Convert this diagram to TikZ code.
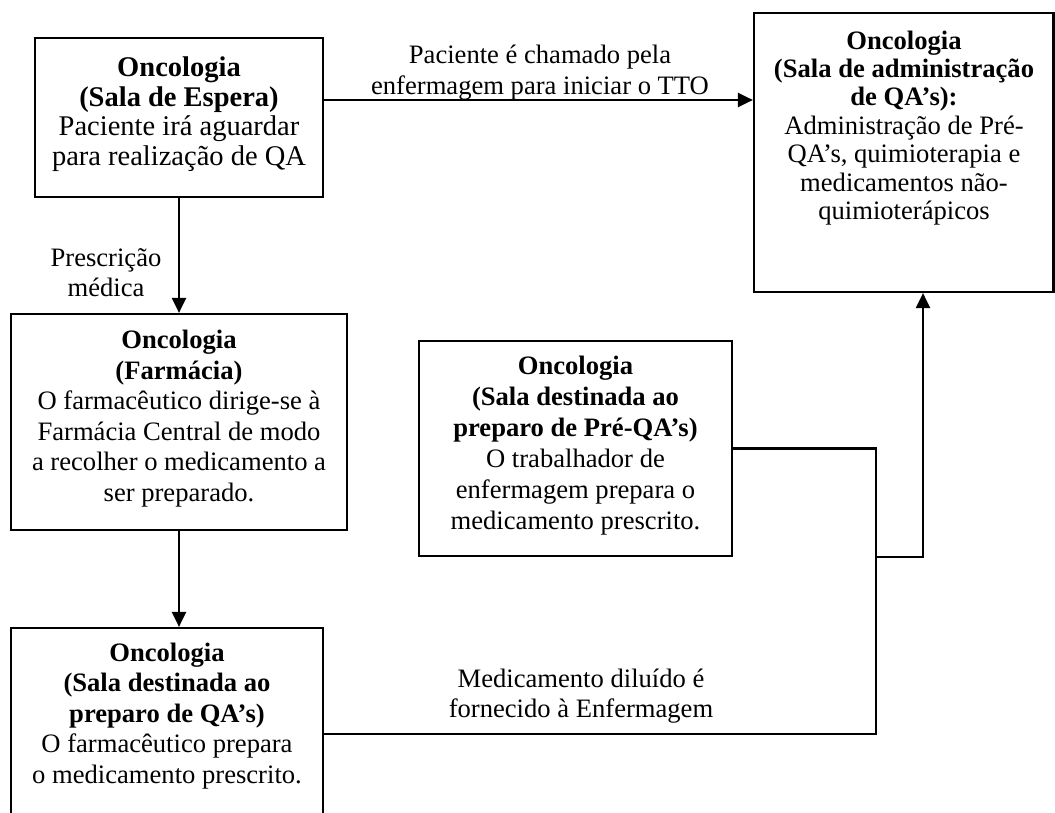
\documentclass[tikz,border=0pt]{standalone}
\usepackage{fontspec}
\setmainfont{Liberation Serif}
\usetikzlibrary{arrows.meta}
\tikzset{
  box/.style={draw, line width=2.2pt, inner sep=0pt, rectangle},
  txt/.style={align=center, inner sep=0pt, font=\fontsize{26.6}{30.5}\selectfont},
  link/.style={line width=2.2pt},
  arr/.style={line width=2.2pt, -{Triangle[length=15pt,width=14pt]}},
}
\begin{document}
\begin{tikzpicture}[x=1pt,y=-1pt]
\useasboundingbox (0,0) rectangle (1055,813);
% boxes
\node[box, minimum width=288pt, minimum height=159pt] (A) at (179,117.5) {};
\node[box, minimum width=299.5pt, minimum height=279pt] (B) at (903.75,152.5) {};
\node[box, minimum width=336pt, minimum height=216pt] (C) at (179,422) {};
\node[box, minimum width=312pt, minimum height=202pt] (D) at (167,729) {};
\node[box, minimum width=313pt, minimum height=215pt] (E) at (575.5,448.5) {};
% box texts
\node[txt, font=\fontsize{28.5}{29.5}\selectfont] (At) at (179,114)
  {\textbf{Oncologia}\\\textbf{(Sala de Espera)}\\Paciente irá aguardar\\para realização de QA};
\node[txt, font=\fontsize{26.6}{28.4}\selectfont] (Bt) at (904,128)
  {\textbf{Oncologia}\\\textbf{(Sala de administração}\\\textbf{de QA’s):}\\Administração de Pré-\\QA’s, quimioterapia e\\medicamentos não-\\quimioterápicos};
\node[txt] (Ct) at (179,418.5)
  {\textbf{Oncologia}\\\textbf{(Farmácia)}\\O farmacêutico dirige-se à\\Farmácia Central de modo\\a recolher o medicamento a\\ser preparado.};
\node[txt] (Dt) at (167,716)
  {\textbf{Oncologia}\\\textbf{(Sala destinada ao}\\\textbf{preparo de QA’s)}\\O farmacêutico prepara\\o medicamento prescrito.};
\node[txt, font=\fontsize{26.6}{31}\selectfont] (Et) at (575.5,446)
  {\textbf{Oncologia}\\\textbf{(Sala destinada ao}\\\textbf{preparo de Pré-QA’s)}\\O trabalhador de\\enfermagem prepara o\\medicamento prescrito.};
% connector labels
\node[txt] (L1) at (540,72.5) {Paciente é chamado pela\\enfermagem para iniciar o TTO};
\node[txt] (L2) at (106,272.5) {Prescrição\\médica};
\node[txt] (L3) at (581,696) {Medicamento diluído é\\fornecido à Enfermagem};
% connectors
\path (A.east) ++(0,-17.5) coordinate (ab);
\draw[arr] (ab) -- (ab -| B.west);
\draw[arr] (A.south) -- (C.north);
\draw[arr] (C.south) -- (C.south |- D.north);
\path (D.east) ++(0,5) coordinate (dj);
\coordinate (vx) at (876,0);
\coordinate (ux) at (923,0);
\draw[link] (dj) -| (vx |- E.east) -- (E.east);
\draw[arr] (vx |- E.south) -| (ux |- B.south);
\end{tikzpicture}
\end{document}
